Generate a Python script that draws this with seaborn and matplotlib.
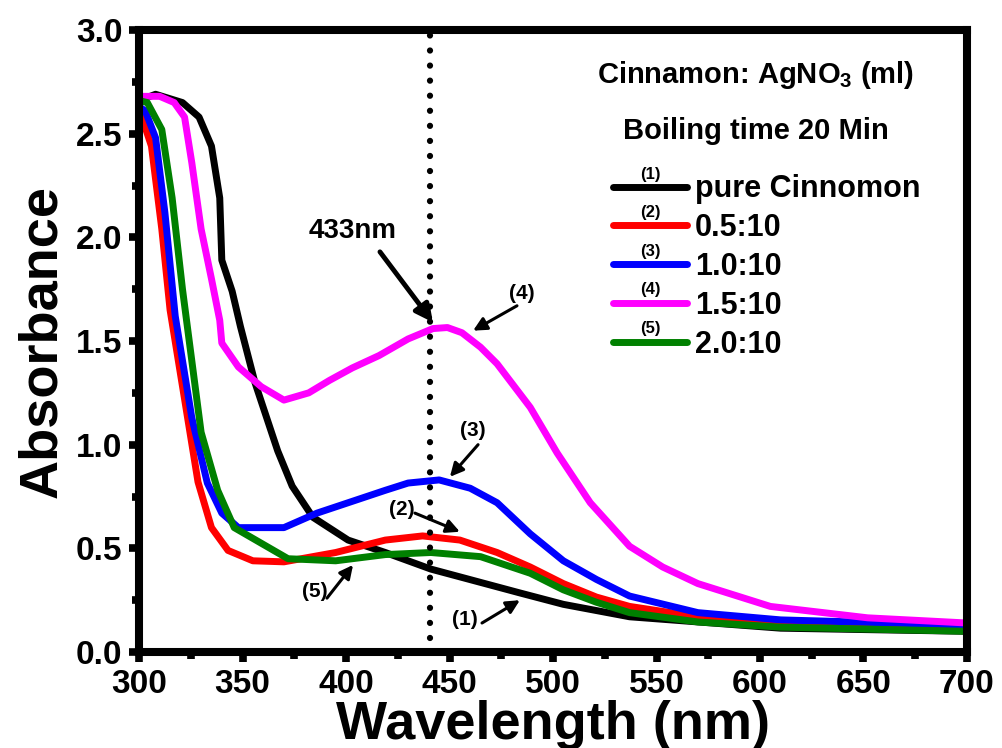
import seaborn as sns
import matplotlib.pyplot as plt
import numpy as np
import pandas as pd
from matplotlib.ticker import MultipleLocator

# Absorbance spectra (wavelength in nm)
black_w = [300, 308, 321, 329, 335, 339, 340, 345, 349, 356, 367, 374, 384, 401, 419, 441, 484, 505, 537, 610, 700]
black_a = [2.66, 2.69, 2.65, 2.58, 2.44, 2.19, 1.89, 1.74, 1.57, 1.30, 0.97, 0.80, 0.65, 0.54, 0.48, 0.40, 0.285,
           0.23, 0.17, 0.115, 0.10]

red_w = [300, 301, 306, 311, 315, 322, 328.5, 335, 343, 355, 370, 395, 419, 437, 455, 473, 489, 505, 521, 537, 570,
         610, 700]
red_a = [2.61, 2.59, 2.44, 2.04, 1.65, 1.22, 0.82, 0.60, 0.49, 0.44, 0.435, 0.48, 0.54, 0.56, 0.54, 0.48, 0.41, 0.33,
         0.265, 0.22, 0.17, 0.14, 0.11]

blue_w = [300, 303, 308, 312.5, 317.5, 325.5, 333, 340, 348, 370, 386, 419, 430, 445, 460, 473, 489, 505, 521, 537,
          570, 610, 700]
blue_a = [2.63, 2.61, 2.48, 2.12, 1.62, 1.13, 0.815, 0.67, 0.60, 0.60, 0.67, 0.78, 0.815, 0.83, 0.79, 0.72, 0.57,
          0.44, 0.35, 0.27, 0.19, 0.155, 0.13]

magenta_w = [300, 310, 317, 322, 325.5, 330, 335, 339, 340, 348, 359, 370, 382, 392, 403, 416, 430, 442, 449, 456,
             465, 473, 489, 502, 518, 537, 553, 570, 605, 652, 700]
magenta_a = [2.68, 2.68, 2.65, 2.58, 2.36, 2.04, 1.80, 1.60, 1.49, 1.375, 1.28, 1.215, 1.25, 1.31, 1.37, 1.43, 1.51,
             1.56, 1.565, 1.54, 1.47, 1.39, 1.18, 0.96, 0.72, 0.51, 0.41, 0.33, 0.22, 0.165, 0.14]

green_w = [300, 304, 311, 316, 321, 330, 338, 346, 359, 372, 395, 419, 441, 465, 489, 505, 521, 537, 570, 610, 700]
green_a = [2.66, 2.65, 2.52, 2.19, 1.75, 1.06, 0.78, 0.60, 0.525, 0.45, 0.44, 0.47, 0.48, 0.46, 0.38, 0.30, 0.24,
           0.19, 0.145, 0.12, 0.10]

labels = ['pure Cinnomon', '0.5:10', '1.0:10', '1.5:10', '2.0:10']
colors = ['black', '#ff0000', '#0000ff', '#ff00ff', '#008000']
peak_nm = 440.5

series = [(black_w, black_a), (red_w, red_a), (blue_w, blue_a), (magenta_w, magenta_a), (green_w, green_a)]
frames = []
for lab, (w, a) in zip(labels, series):
    frames.append(pd.DataFrame({'wavelength': w, 'absorbance': a, 'sample': lab}))
df = pd.concat(frames, ignore_index=True)

sns.set_style('ticks')
plt.rcParams['font.family'] = ['Liberation Sans', 'DejaVu Sans']
plt.rcParams['font.weight'] = 'bold'
plt.rcParams['text.color'] = 'black'
plt.rcParams['axes.labelcolor'] = 'black'
plt.rcParams['xtick.color'] = 'black'
plt.rcParams['ytick.color'] = 'black'
plt.rcParams['mathtext.fontset'] = 'custom'
plt.rcParams['mathtext.rm'] = 'Liberation Sans:bold'
plt.rcParams['mathtext.bf'] = 'Liberation Sans:bold'
plt.rcParams['mathtext.default'] = 'bf'

fig = plt.figure(figsize=(10.03, 7.48), dpi=100)
ax = fig.add_axes([0.1386, 0.1283, 0.8255, 0.8316])

sns.lineplot(data=df, x='wavelength', y='absorbance', hue='sample', hue_order=labels,
             palette=colors, lw=5, sort=False, estimator=None, ax=ax)

# dotted marker line at the SPR peak
ax.plot([peak_nm, peak_nm], [0.07, 3.0], color='black', lw=4.5,
        linestyle=(0, (0.01, 2.4)), dash_capstyle='round', zorder=5)

ax.set_xlim(300, 700)
ax.set_ylim(0, 3.0)
ax.xaxis.set_major_locator(MultipleLocator(50))
ax.xaxis.set_minor_locator(MultipleLocator(25))
ax.yaxis.set_major_locator(MultipleLocator(0.5))
ax.yaxis.set_minor_locator(MultipleLocator(0.25))
ax.set_yticks(np.arange(0, 3.01, 0.5))
ax.set_yticklabels([f'{v:.1f}' for v in np.arange(0, 3.01, 0.5)])

for s in ax.spines.values():
    s.set_linewidth(5.8)
    s.set_color('black')
ax.tick_params(which='major', direction='out', length=7, width=5.5, labelsize=24, pad=5, colors='black')
ax.tick_params(which='minor', direction='out', length=5, width=5.5, colors='black')
for lbl in ax.get_xticklabels() + ax.get_yticklabels():
    lbl.set_fontweight('bold')

ax.set_xlabel('Wavelength (nm)', fontsize=39, fontweight='bold', labelpad=0)
ax.set_ylabel('Absorbance', fontsize=39, fontweight='bold', labelpad=6)

# legend
handles, labs = ax.get_legend_handles_labels()
ax.legend(handles, labs, loc='upper left', bbox_to_anchor=(0.572, 0.768), frameon=False,
          prop={'weight': 'bold', 'size': 22}, handlelength=2.45, handletextpad=0.25,
          labelspacing=0.29, borderpad=0, borderaxespad=0)
for i in range(5):
    ax.text(0.618, (652 - (174 + 38.5 * i)) / 622, f'({i + 1})', transform=ax.transAxes,
            fontsize=12, fontweight='bold', ha='center', va='center')

ax.text(0.745, 0.928, r'Cinnamon: AgNO$_{3}$ (ml)', transform=ax.transAxes,
        fontsize=21, fontweight='bold', ha='center', va='center')
ax.text(0.745, 0.838, 'Boiling time 20 Min', transform=ax.transAxes,
        fontsize=21, fontweight='bold', ha='center', va='center')

# annotations with arrows
arrow = dict(arrowstyle='-|>', color='black', lw=2.2, mutation_scale=20, shrinkA=0, shrinkB=0)
ax.text(403.4, 2.03, '433nm', fontsize=20, fontweight='bold', ha='center', va='center')
ax.annotate('', xy=(442, 1.59), xytext=(416.4, 1.93), arrowprops=dict(arrow, lw=3.5, mutation_scale=26))
notes = [('(4)', (485, 1.73), (482.6, 1.67), (461.4, 1.55)),
         ('(3)', (461.4, 1.07), (463.8, 1.0), (450.2, 0.845)),
         ('(2)', (427, 0.685), (433.3, 0.67), (455, 0.58)),
         ('(1)', (457.5, 0.155), (465.7, 0.14), (484, 0.25)),
         ('(5)', (385, 0.29), (390.8, 0.26), (403.4, 0.42))]
for txt, tpos, tail, head in notes:
    ax.text(tpos[0], tpos[1], txt, fontsize=15, fontweight='bold', ha='center', va='center')
    ax.annotate('', xy=head, xytext=tail, arrowprops=arrow)

plt.savefig('out.png', dpi=100)
